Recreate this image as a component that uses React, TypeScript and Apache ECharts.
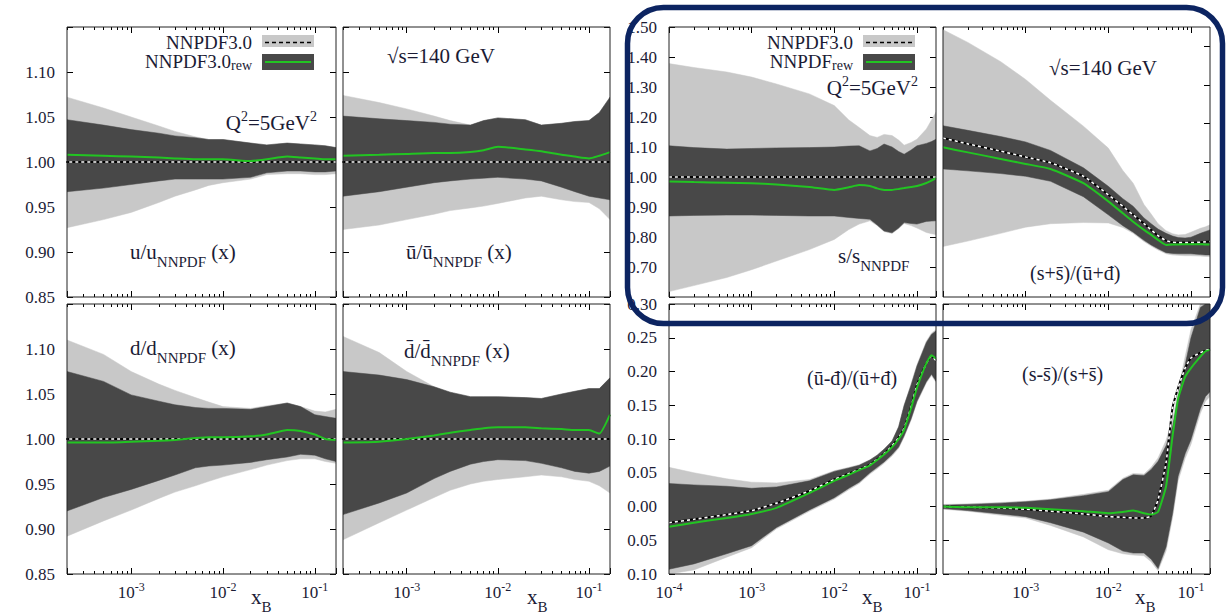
import React, { useEffect, useRef } from 'react';
import * as echarts from 'echarts';

// ---------- data ----------
const xLeft = [2e-4, 5e-4, 1e-3, 2e-3, 3e-3, 5e-3, 7e-3, 1e-2, 2e-2, 3e-2, 5e-2, 7e-2, 0.1, 0.13, 0.17];
const xRight = [1e-4, 2e-4, 5e-4, 1e-3, 2e-3, 5e-3, 1e-2, 1.5e-2, 2e-2, 2.7e-2, 3.3e-2, 4e-2, 5e-2, 6e-2, 7e-2, 8.5e-2, 0.1, 0.13, 0.15, 0.17];
const ratioX = [1e-4, 0.17];
const ratioCentral = [1.0, 1.0];

// u / u_NNPDF
const uLightHi = [1.072, 1.060, 1.050, 1.040, 1.034, 1.028, 1.025, 1.025, 1.021, 1.019, 1.021, 1.020, 1.019, 1.018, 1.016];
const uDarkHi = [1.047, 1.041, 1.036, 1.032, 1.029, 1.027, 1.025, 1.025, 1.021, 1.019, 1.021, 1.020, 1.019, 1.018, 1.016];
const uRew = [1.008, 1.007, 1.006, 1.005, 1.004, 1.003, 1.003, 1.003, 1.001, 1.003, 1.006, 1.005, 1.004, 1.003, 1.003];
const uDarkLo = [0.967, 0.971, 0.975, 0.979, 0.981, 0.981, 0.981, 0.981, 0.983, 0.988, 0.990, 0.990, 0.989, 0.989, 0.990];
const uLightLo = [0.927, 0.936, 0.944, 0.955, 0.962, 0.969, 0.974, 0.977, 0.981, 0.986, 0.987, 0.987, 0.986, 0.986, 0.987];

// ubar / ubar_NNPDF
const ubLightHi = [1.074, 1.066, 1.059, 1.051, 1.046, 1.041, 1.046, 1.049, 1.047, 1.041, 1.043, 1.045, 1.046, 1.055, 1.072];
const ubDarkHi = [1.051, 1.048, 1.046, 1.044, 1.042, 1.041, 1.046, 1.049, 1.047, 1.041, 1.043, 1.045, 1.046, 1.055, 1.072];
const ubRew = [1.007, 1.008, 1.009, 1.010, 1.010, 1.011, 1.013, 1.017, 1.014, 1.012, 1.008, 1.006, 1.004, 1.007, 1.011];
const ubDarkLo = [0.962, 0.967, 0.972, 0.977, 0.979, 0.981, 0.982, 0.983, 0.981, 0.979, 0.972, 0.967, 0.962, 0.960, 0.958];
const ubLightLo = [0.925, 0.930, 0.936, 0.942, 0.946, 0.949, 0.951, 0.954, 0.960, 0.962, 0.958, 0.956, 0.955, 0.948, 0.936];

// d / d_NNPDF
const dLightHi = [1.110, 1.094, 1.075, 1.061, 1.054, 1.046, 1.041, 1.036, 1.034, 1.037, 1.040, 1.036, 1.031, 1.030, 1.033];
const dDarkHi = [1.075, 1.064, 1.049, 1.042, 1.038, 1.035, 1.034, 1.034, 1.033, 1.036, 1.040, 1.036, 1.027, 1.025, 1.023];
const dRew = [0.996, 0.996, 0.997, 0.998, 0.999, 1.001, 1.002, 1.002, 1.003, 1.005, 1.010, 1.009, 1.005, 1.000, 0.999];
const dDarkLo = [0.920, 0.935, 0.944, 0.954, 0.960, 0.968, 0.970, 0.971, 0.974, 0.977, 0.980, 0.983, 0.982, 0.978, 0.975];
const dLightLo = [0.892, 0.909, 0.921, 0.934, 0.941, 0.948, 0.953, 0.958, 0.966, 0.971, 0.976, 0.978, 0.978, 0.975, 0.973];

// dbar / dbar_NNPDF
const dbLightHi = [1.114, 1.096, 1.075, 1.058, 1.052, 1.047, 1.047, 1.047, 1.046, 1.045, 1.050, 1.053, 1.056, 1.056, 1.068];
const dbDarkHi = [1.075, 1.071, 1.066, 1.058, 1.052, 1.047, 1.047, 1.047, 1.046, 1.045, 1.050, 1.053, 1.056, 1.056, 1.068];
const dbRew = [0.996, 0.997, 1.000, 1.004, 1.007, 1.010, 1.012, 1.013, 1.013, 1.012, 1.011, 1.010, 1.010, 1.006, 1.027];
const dbDarkLo = [0.916, 0.929, 0.940, 0.956, 0.964, 0.972, 0.975, 0.977, 0.976, 0.973, 0.968, 0.964, 0.962, 0.964, 0.970];
const dbLightLo = [0.888, 0.907, 0.921, 0.935, 0.943, 0.950, 0.953, 0.955, 0.958, 0.960, 0.958, 0.955, 0.953, 0.948, 0.940];

// s / s_NNPDF
const sLightHi = [1.378, 1.365, 1.350, 1.333, 1.310, 1.277, 1.238, 1.190, 1.165, 1.138, 1.132, 1.142, 1.138, 1.123, 1.106, 1.115, 1.126, 1.160, 1.190, 1.216];
const sDarkHi = [1.104, 1.098, 1.093, 1.095, 1.097, 1.098, 1.100, 1.103, 1.104, 1.087, 1.095, 1.110, 1.100, 1.085, 1.076, 1.090, 1.104, 1.112, 1.118, 1.126];
const sRew = [0.985, 0.983, 0.981, 0.979, 0.975, 0.967, 0.957, 0.966, 0.973, 0.970, 0.962, 0.957, 0.957, 0.960, 0.963, 0.967, 0.970, 0.980, 0.988, 0.996];
const sDarkLo = [0.870, 0.872, 0.873, 0.873, 0.872, 0.870, 0.870, 0.865, 0.862, 0.859, 0.840, 0.820, 0.814, 0.830, 0.848, 0.845, 0.843, 0.852, 0.853, 0.854];
const sLightLo = [0.618, 0.638, 0.665, 0.691, 0.720, 0.758, 0.792, 0.825, 0.843, 0.854, 0.838, 0.818, 0.812, 0.828, 0.845, 0.838, 0.830, 0.815, 0.811, 0.808];

// (s+sbar)/(ubar+dbar)
const spLightHi = [1.143, 1.110, 1.060, 1.014, 0.960, 0.893, 0.836, 0.778, 0.745, 0.690, 0.665, 0.640, 0.622, 0.614, 0.611, 0.612, 0.618, 0.628, 0.632, 0.637];
const spDarkHi = [0.894, 0.882, 0.866, 0.852, 0.830, 0.785, 0.737, 0.705, 0.685, 0.655, 0.640, 0.626, 0.615, 0.608, 0.604, 0.603, 0.605, 0.615, 0.620, 0.624];
const spCentral = [0.862, 0.847, 0.828, 0.813, 0.798, 0.763, 0.715, 0.685, 0.663, 0.640, 0.624, 0.609, 0.596, 0.592, 0.591, 0.591, 0.591, 0.592, 0.593, 0.594];
const spRew = [0.838, 0.825, 0.808, 0.795, 0.782, 0.745, 0.698, 0.667, 0.645, 0.624, 0.611, 0.598, 0.585, 0.586, 0.586, 0.587, 0.587, 0.587, 0.586, 0.586];
const spDarkLo = [0.782, 0.777, 0.770, 0.763, 0.750, 0.710, 0.663, 0.635, 0.618, 0.597, 0.585, 0.575, 0.565, 0.563, 0.562, 0.562, 0.562, 0.560, 0.559, 0.559];
const spLightLo = [0.581, 0.595, 0.615, 0.631, 0.640, 0.643, 0.642, 0.630, 0.615, 0.594, 0.582, 0.572, 0.562, 0.559, 0.558, 0.557, 0.557, 0.556, 0.555, 0.555];

// (ubar-dbar)/(ubar+dbar)
const udLightHi = [0.058, 0.050, 0.041, 0.036, 0.035, 0.040, 0.053, 0.058, 0.062, 0.069, 0.076, 0.085, 0.097, 0.118, 0.150, 0.182, 0.210, 0.245, 0.257, 0.262];
const udDarkHi = [0.034, 0.032, 0.030, 0.027, 0.029, 0.038, 0.052, 0.057, 0.061, 0.069, 0.076, 0.085, 0.097, 0.118, 0.150, 0.180, 0.208, 0.243, 0.255, 0.260];
const udCentral = [-0.024, -0.019, -0.012, -0.006, 0.005, 0.023, 0.040, 0.049, 0.055, 0.062, 0.070, 0.078, 0.090, 0.102, 0.116, 0.148, 0.180, 0.212, 0.223, 0.216];
const udRew = [-0.030, -0.024, -0.017, -0.011, -0.002, 0.020, 0.038, 0.047, 0.054, 0.061, 0.069, 0.077, 0.088, 0.100, 0.114, 0.146, 0.176, 0.212, 0.224, 0.219];
const udDarkLo = [-0.093, -0.085, -0.070, -0.058, -0.031, -0.005, 0.013, 0.027, 0.036, 0.050, 0.058, 0.066, 0.077, 0.088, 0.105, 0.130, 0.156, 0.185, 0.196, 0.186];
const udLightLo = [-0.100, -0.094, -0.075, -0.061, -0.033, -0.007, 0.011, 0.025, 0.034, 0.048, 0.056, 0.064, 0.075, 0.086, 0.103, 0.128, 0.154, 0.183, 0.194, 0.184];

// (s-sbar)/(s+sbar)
const smLightHi = [0.003, 0.004, 0.006, 0.008, 0.011, 0.018, 0.024, 0.042, 0.049, 0.048, 0.058, 0.072, 0.098, 0.130, 0.172, 0.222, 0.262, 0.305, 0.318, 0.325];
const smDarkHi = [0.002, 0.003, 0.005, 0.007, 0.010, 0.016, 0.022, 0.040, 0.047, 0.046, 0.055, 0.067, 0.090, 0.119, 0.160, 0.210, 0.250, 0.295, 0.310, 0.320];
const smCentral = [0.000, -0.001, -0.002, -0.004, -0.007, -0.011, -0.015, -0.016, -0.017, -0.017, -0.014, 0.010, 0.065, 0.147, 0.176, 0.205, 0.220, 0.228, 0.231, 0.233];
const smRew = [0.000, -0.001, -0.001, -0.002, -0.004, -0.007, -0.010, -0.008, -0.006, -0.010, -0.012, -0.008, 0.030, 0.105, 0.160, 0.192, 0.205, 0.222, 0.230, 0.232];
const smDarkLo = [-0.003, -0.006, -0.011, -0.015, -0.024, -0.038, -0.054, -0.066, -0.069, -0.069, -0.078, -0.092, -0.060, -0.010, 0.045, 0.078, 0.099, 0.145, 0.163, 0.170];
const smLightLo = [-0.004, -0.007, -0.013, -0.017, -0.028, -0.045, -0.064, -0.070, -0.072, -0.073, -0.082, -0.095, -0.066, -0.016, 0.038, 0.071, 0.092, 0.138, 0.156, 0.163];

// axis ticks
const majorDecades = [-4, -3, -2, -1];
const minorFactors = [2, 3, 4, 5, 6, 7, 8, 9];
const yTicksSplus = [0.5, 0.6, 0.7, 0.8, 0.9, 1.0, 1.1];
const X_MAX = 0.17;

// ---------- styling ----------
const FONT = 'Liberation Serif';
const TXT = '#1b1b35';
const LIGHT = '#c8c8c8';
const DARK = '#484848';
const GREEN = '#22c422';

const GRIDS = [
  { left: 67, top: 27, width: 269, height: 270 },
  { left: 343, top: 27, width: 267, height: 270 },
  { left: 669, top: 27, width: 267, height: 270 },
  { left: 943, top: 27, width: 267, height: 270 },
  { left: 67, top: 304, width: 269, height: 270 },
  { left: 343, top: 304, width: 267, height: 270 },
  { left: 669, top: 304, width: 267, height: 270 },
  { left: 943, top: 304, width: 267, height: 270 },
];

const fmt2 = (v: number) => v.toFixed(2);

const PANELS: any[] = [
  { xs: xLeft, xmin: 2e-4, lightLo: uLightLo, lightHi: uLightHi, darkLo: uDarkLo, darkHi: uDarkHi, rew: uRew, cx: ratioX, central: ratioCentral,
    ymin: 0.85, ymax: 1.15, interval: 0.05, leftLabels: (v: number) => (v > 1.12 ? '' : fmt2(v)), bottom: false },
  { xs: xLeft, xmin: 2e-4, lightLo: ubLightLo, lightHi: ubLightHi, darkLo: ubDarkLo, darkHi: ubDarkHi, rew: ubRew, cx: ratioX, central: ratioCentral,
    ymin: 0.85, ymax: 1.15, interval: 0.05, leftLabels: null, bottom: false },
  { xs: xRight, xmin: 1e-4, lightLo: sLightLo, lightHi: sLightHi, darkLo: sDarkLo, darkHi: sDarkHi, rew: sRew, cx: ratioX, central: ratioCentral,
    ymin: 0.6, ymax: 1.5, interval: 0.1, leftLabels: (v: number) => (v < 0.65 ? '' : fmt2(v)), bottom: false },
  { xs: xRight, xmin: 1e-4, lightLo: spLightLo, lightHi: spLightHi, darkLo: spDarkLo, darkHi: spDarkHi, rew: spRew, cx: xRight, central: spCentral,
    ymin: 0.45, ymax: 1.15, interval: null, leftLabels: null, bottom: false, noLeftTicks: true, rightTicks: yTicksSplus },
  { xs: xLeft, xmin: 2e-4, lightLo: dLightLo, lightHi: dLightHi, darkLo: dDarkLo, darkHi: dDarkHi, rew: dRew, cx: ratioX, central: ratioCentral,
    ymin: 0.85, ymax: 1.15, interval: 0.05, leftLabels: (v: number) => (v > 1.12 ? '' : fmt2(v)), bottom: true },
  { xs: xLeft, xmin: 2e-4, lightLo: dbLightLo, lightHi: dbLightHi, darkLo: dbDarkLo, darkHi: dbDarkHi, rew: dbRew, cx: ratioX, central: ratioCentral,
    ymin: 0.85, ymax: 1.15, interval: 0.05, leftLabels: null, bottom: true },
  { xs: xRight, xmin: 1e-4, lightLo: udLightLo, lightHi: udLightHi, darkLo: udDarkLo, darkHi: udDarkHi, rew: udRew, cx: xRight, central: udCentral,
    ymin: -0.1, ymax: 0.3, interval: 0.05, leftLabels: (v: number) => Math.abs(v).toFixed(2), bottom: true },
  { xs: xRight, xmin: 1e-4, lightLo: smLightLo, lightHi: smLightHi, darkLo: smDarkLo, darkHi: smDarkHi, rew: smRew, cx: xRight, central: smCentral,
    ymin: -0.1, ymax: 0.3, interval: 0.05, leftLabels: null, bottom: true, hideMin: true },
];

function logTicks(xmin: number, major: boolean) {
  const lo = Math.log10(xmin) - 1e-9;
  const hi = Math.log10(X_MAX) + 1e-9;
  const out: number[] = [];
  majorDecades.forEach((d) => {
    if (major) {
      if (d >= lo && d <= hi) out.push(d);
    } else {
      minorFactors.forEach((k) => {
        const v = Math.log10(k) + d;
        if (v >= lo && v <= hi) out.push(v);
      });
    }
  });
  return out;
}

function buildOption() {
  const xAxis: any[] = [];
  const yAxis: any[] = [];
  const series: any[] = [];

  PANELS.forEach((p, gi) => {
    const lmin = Math.log10(p.xmin);
    const lmax = Math.log10(X_MAX);
    const tickStyle = { color: '#000', width: 1 };
    // series axis (log)
    xAxis.push({
      gridIndex: gi, type: 'log', logBase: 10, min: p.xmin, max: X_MAX, position: 'bottom',
      axisLine: { show: false, onZero: false }, splitLine: { show: false },
      axisTick: { show: true, inside: true, length: 6, lineStyle: tickStyle },
      axisLabel: {
        show: p.bottom, margin: 7, showMinLabel: !p.hideMin,
        formatter: (v: number) => {
          const l = Math.log10(v);
          const r = Math.round(l);
          if (Math.abs(l - r) > 1e-6) return '';
          if (p.hideMin && Math.abs(v - p.xmin) < 1e-12) return '';
          return '{b|10}{s|' + r + '}';
        },
        rich: {
          b: { fontFamily: FONT, fontSize: 17, lineHeight: 22, color: TXT },
          s: { fontFamily: FONT, fontSize: 12, lineHeight: 12, verticalAlign: 'top', color: TXT },
        },
      },
    });
    const deco = (pos: string, major: boolean) => ({
      gridIndex: gi, type: 'value', min: lmin, max: lmax, position: pos,
      axisLine: { show: false, onZero: false }, splitLine: { show: false }, axisLabel: { show: false },
      axisTick: { show: true, inside: true, length: major ? 6 : 3, lineStyle: tickStyle, customValues: logTicks(p.xmin, major) },
    });
    xAxis.push(deco('bottom', false), deco('top', true), deco('top', false));

    const yl: any = {
      gridIndex: gi, type: 'value', min: p.ymin, max: p.ymax, position: 'left',
      axisLine: { show: false, onZero: false }, splitLine: { show: false },
      axisTick: { show: !p.noLeftTicks, inside: true, length: 6, lineStyle: tickStyle },
      axisLabel: {
        show: !!p.leftLabels, margin: 12, fontFamily: FONT, fontSize: 17, color: TXT,
        formatter: p.leftLabels || undefined, showMinLabel: true, showMaxLabel: true,
      },
    };
    const yr: any = {
      gridIndex: gi, type: 'value', min: p.ymin, max: p.ymax, position: 'right',
      axisLine: { show: false, onZero: false }, splitLine: { show: false }, axisLabel: { show: false },
      axisTick: { show: true, inside: true, length: 6, lineStyle: tickStyle },
    };
    if (p.interval) {
      yl.interval = p.interval;
      yr.interval = p.interval;
    }
    if (p.rightTicks) yr.axisTick.customValues = p.rightTicks;
    yAxis.push(yl, yr);

    const axisRef = { xAxisIndex: gi * 4, yAxisIndex: gi * 2 };
    const band = (lo: number[], hi: number[], color: string, z: number) => ({
      type: 'custom', ...axisRef, z, silent: true, animation: false, clip: true,
      data: p.xs.map((x: number, i: number) => [x, lo[i], hi[i]]),
      encode: { x: 0, y: [1, 2] },
      renderItem: (params: any, api: any) => {
        if (params.dataIndexInside !== 0) return null;
        const cs = params.coordSys;
        const yTop = cs.y;
        const yBot = cs.y + cs.height;
        const clampPt = (pt: number[]) => [pt[0], Math.min(yBot, Math.max(yTop, pt[1]))];
        const n = params.dataInsideLength;
        const top: number[][] = [];
        const bot: number[][] = [];
        for (let j = 0; j < n; j++) {
          const xv = api.value(0, j);
          top.push(clampPt(api.coord([xv, api.value(2, j)])));
          bot.push(clampPt(api.coord([xv, api.value(1, j)])));
        }
        return {
          type: 'polygon',
          shape: { points: top.concat(bot.reverse()) },
          style: { fill: color, stroke: color, lineWidth: 0.5 },
        };
      },
    });
    series.push(band(p.lightLo, p.lightHi, LIGHT, 1));
    series.push(band(p.darkLo, p.darkHi, DARK, 2));
    const lineCommon = { type: 'line', ...axisRef, symbol: 'none', showSymbol: false, silent: true, animation: false, smooth: 0.15 };
    const cdata = p.cx.map((x: number, i: number) => [x, p.central[i]]);
    series.push({ ...lineCommon, z: 3, data: cdata, lineStyle: { color: '#000', width: 2 } });
    series.push({ ...lineCommon, z: 4, data: cdata, lineStyle: { color: '#fff', width: 1.6, type: [3, 3] } });
    series.push({ ...lineCommon, z: 5, data: p.xs.map((x: number, i: number) => [x, p.rew[i]]), lineStyle: { color: GREEN, width: 2 } });
  });

  const rich = {
    sub: { fontFamily: FONT, fontSize: 15, lineHeight: 15, verticalAlign: 'bottom', fill: TXT },
    sup: { fontFamily: FONT, fontSize: 14, lineHeight: 14, verticalAlign: 'top', fill: TXT },
    lsub: { fontFamily: FONT, fontSize: 14, lineHeight: 4, verticalAlign: 'bottom', fill: TXT },
  };
  const txt = (text: string, x: number, y: number, align = 'left', kind = 'none', size = 21) => ({
    type: 'text', x, y, z: 50, silent: true,
    style: {
      text, fill: TXT, fontFamily: FONT, fontSize: size, align, verticalAlign: 'middle',
      lineHeight: kind === 'sub' ? 35 : kind === 'sup' ? 28 : kind === 'lsub' ? 22 : kind === 'leg' ? 16 : size + 4, rich,
    },
  });

  const legend = (textRight: number, boxX: number, y1: number, y2: number, label2: string) => [
    { type: 'rect', z: 40, silent: true, shape: { x: boxX, y: 35, width: 52, height: 12 }, style: { fill: LIGHT } },
    { type: 'line', z: 41, silent: true, shape: { x1: boxX + 3, y1: 42.5, x2: boxX + 49, y2: 42.5 }, style: { stroke: '#000', lineWidth: 1.5, lineDash: [4, 3] } },
    { type: 'rect', z: 40, silent: true, shape: { x: boxX, y: 54, width: 52, height: 16 }, style: { fill: DARK } },
    { type: 'line', z: 41, silent: true, shape: { x1: boxX + 3, y1: 62, x2: boxX + 49, y2: 62 }, style: { stroke: GREEN, lineWidth: 2 } },
    txt('NNPDF3.0', textRight, y1, 'right', 'leg', 19),
    txt(label2, textRight, y2, 'right', 'lsub', 19),
  ];

  const graphic: any[] = [
    ...legend(252, 262, 42, 61, 'NNPDF3.0{lsub|rew}'),
    ...legend(853, 863, 42, 61, 'NNPDF{lsub|rew}'),
    txt('Q{sup|2}=5GeV{sup|2}', 317, 123, 'right', 'sup'),
    txt('u/u{sub|NNPDF} (x)', 130, 252, 'left', 'sub'),
    txt('√s=140 GeV', 387, 56),
    txt('ū/ū{sub|NNPDF} (x)', 406, 252, 'left', 'sub'),
    txt('Q{sup|2}=5GeV{sup|2}', 918, 88, 'right', 'sup'),
    txt('s/s{sub|NNPDF}', 838, 256, 'left', 'sub'),
    txt('√s=140 GeV', 1049, 68),
    txt('(s+s̄)/(ū+đ)', 1030, 273, 'left', 'none', 20),
    txt('d/d{sub|NNPDF} (x)', 130, 348, 'left', 'sub'),
    txt('d̄/d̄{sub|NNPDF} (x)', 404, 351, 'left', 'sub'),
    txt('(ū-đ)/(ū+đ)', 807, 378, 'left', 'none', 20),
    txt('(s-s̄)/(s+s̄)', 1022, 374, 'left', 'none', 20),
    txt('x{sub|B}', 251, 597, 'left', 'sub'),
    txt('x{sub|B}', 527, 597, 'left', 'sub'),
    txt('x{sub|B}', 862, 597, 'left', 'sub'),
    txt('x{sub|B}', 1135, 597, 'left', 'sub'),
    {
      type: 'rect', z: 100, silent: true,
      shape: { x: 627.5, y: 7.5, width: 595, height: 316, r: 36 },
      style: { fill: 'none', stroke: '#0c2461', lineWidth: 5.5 },
    },
  ];

  return {
    animation: false,
    backgroundColor: '#fff',
    grid: GRIDS.map((g) => ({ ...g, show: true, borderColor: '#222', borderWidth: 1, backgroundColor: 'transparent', z: 10 })),
    xAxis, yAxis, series, graphic,
  };
}

export default function App() {
  const ref = useRef<HTMLDivElement>(null);
  useEffect(() => {
    const chart = echarts.init(ref.current as HTMLDivElement, undefined, { renderer: 'svg' });
    chart.setOption(buildOption() as any);
    return () => chart.dispose();
  }, []);
  return (
    <div
      ref={ref}
      style={{ position: 'fixed', left: 0, top: 0, width: 1228, height: 614, background: '#fff' }}
    />
  );
}
